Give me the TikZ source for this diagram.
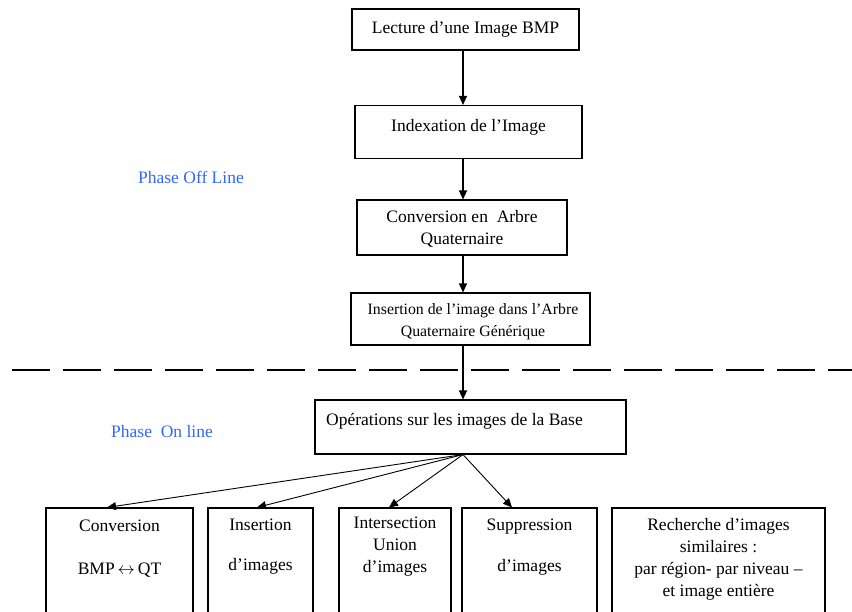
\documentclass[tikz,border=0pt]{standalone}
\usepackage{fontspec}
\setmainfont{Liberation Serif}
\usetikzlibrary{arrows.meta}
\definecolor{phaseblue}{RGB}{51,102,255}
\begin{document}
\begin{tikzpicture}[x=1pt,y=-1pt,
  box/.style={draw,line width=1.1pt,inner sep=0pt},
  txt/.style={font=\fontsize{17.5}{22}\selectfont,align=center,inner sep=0pt},
  arr/.style={line width=1.2pt,-{Triangle[length=9pt,width=8pt]}},
  fanarr/.style={line width=0.9pt,-{Triangle[length=9pt,width=8pt]}},
  phase/.style={font=\fontsize{17.5}{22}\selectfont,text=phaseblue,inner sep=0pt},
  sep/.style={line width=1.2pt,dash pattern=on 38pt off 13pt}]
\useasboundingbox (0,0) rectangle (852,611);
\clip (0,0) rectangle (852,611);

% top chain
\node[box,minimum width=227pt,minimum height=41pt] (b1) at (465.5,29.5) {};
\node[txt] (t1) at (465.5,29) {Lecture d’une Image BMP};
\node[box,minimum width=227pt,minimum height=53pt] (b2) at (468.5,132) {};
\node[txt] (t2) at (468.5,127) {Indexation de l’Image};
\node[box,minimum width=210pt,minimum height=55pt] (b3) at (462,227.5) {};
\node[txt] (t3) at (462,229) {Conversion en\ \ Arbre\\Quaternaire};
\node[box,minimum width=239pt,minimum height=52pt] (b4) at (470.5,319) {};
\node[txt,font=\fontsize{15.8}{22}\selectfont] (t4) at (473,322) {Insertion de l’image dans l’Arbre\\Quaternaire Générique};
\node[box,minimum width=311pt,minimum height=54pt] (b5) at (470.5,427) {};
\node[txt,anchor=west] (t5) at (326,421) {Opérations sur les images de la Base};

% phase labels
\node[phase] (p1) at (191,177) {Phase Off Line};
\node[phase] (p2) at (162,432) {Phase\ \ On line};

% separator
\coordinate (s1) at (12,370);
\coordinate (s2) at (852,370);
\draw[sep] (s1) -- (s2);

% bottom boxes
\node[box,minimum width=147pt,minimum height=120pt] (c1) at (119.5,568) {};
\node[txt] (u1) at (119.5,548.5) {Conversion\\[21pt]BMP\,$\leftrightarrow$\,QT};
\node[box,minimum width=105pt,minimum height=120pt] (c2) at (260.5,568) {};
\node[txt] (u2) at (260.5,547) {Insertion\\[18pt]d’images};
\node[box,minimum width=112pt,minimum height=120pt] (c3) at (395,568) {};
\node[txt] (u3) at (395,546.5) {Intersection\\Union\\d’images};
\node[box,minimum width=135pt,minimum height=120pt] (c4) at (529.5,568) {};
\node[txt] (u4) at (529.5,547.5) {Suppression\\[19pt]d’images};
\node[box,minimum width=213pt,minimum height=120pt] (c5) at (718.5,568) {};
\node[txt] (u5) at (718.5,559.5) {Recherche d’images\\similaires :\\par région- par niveau –\\et image entière};

% vertical arrows
\coordinate (ax) at (463,0);
\draw[arr] (b1.south -| ax) -- (b2.north -| ax);
\draw[arr] (b2.south -| ax) -- (b3.north -| ax);
\draw[arr] (b3.south -| ax) -- (b4.north -| ax);
\draw[arr] (b4.south -| ax) -- (b5.north -| ax);

% fan arrows
\coordinate (fan) at (b5.south -| ax);
\coordinate (x1) at (107,0);
\coordinate (x2) at (257,0);
\coordinate (x3) at (389,0);
\coordinate (x4) at (512,0);
\draw[fanarr] (fan) -- (c1.north -| x1);
\draw[fanarr] (fan) -- (c2.north -| x2);
\draw[fanarr] (fan) -- (c3.north -| x3);
\draw[fanarr] (fan) -- (c4.north -| x4);
\end{tikzpicture}
\end{document}
